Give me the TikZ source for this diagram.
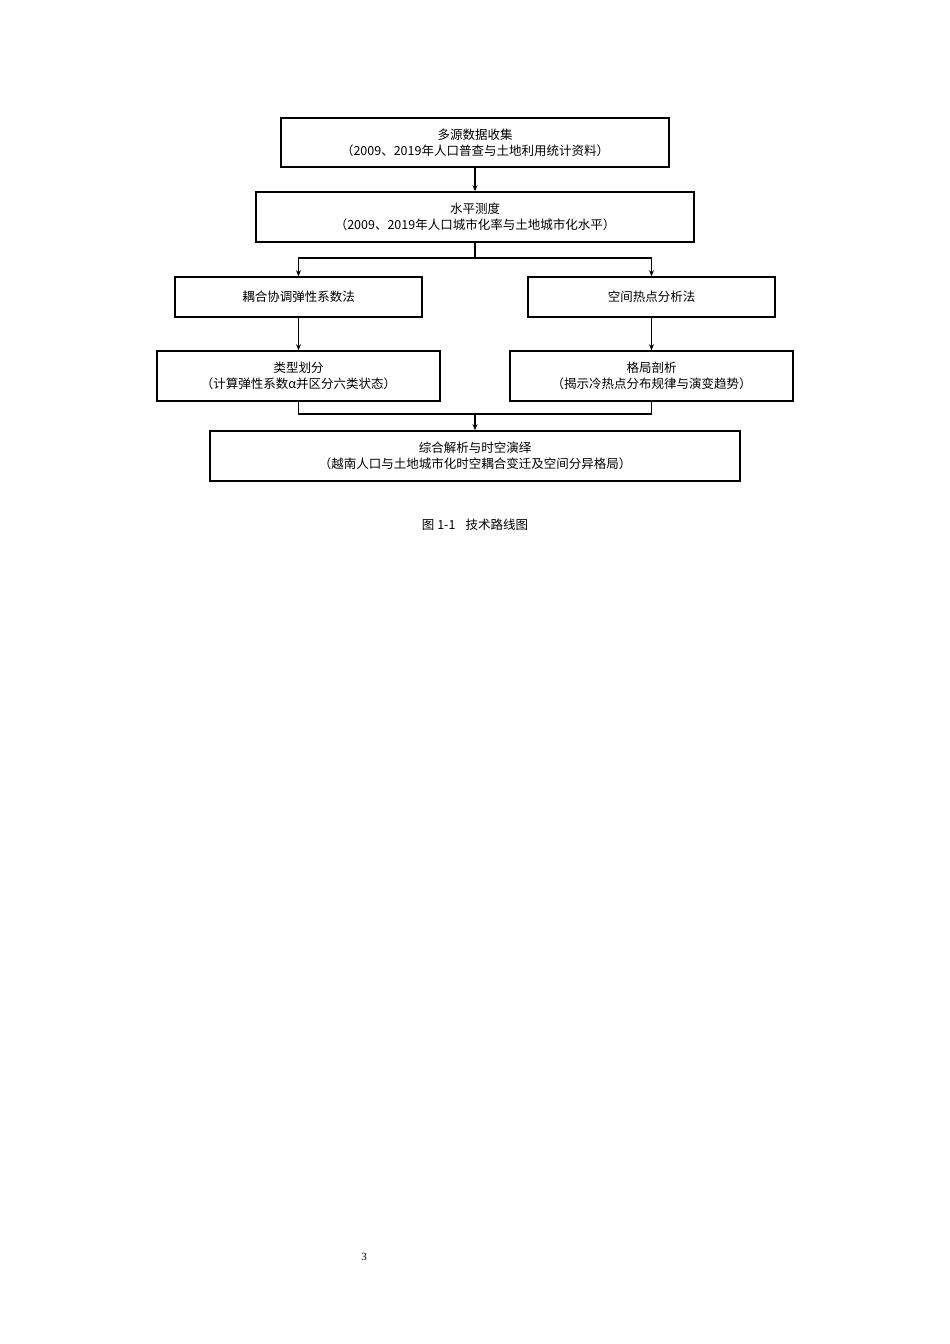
\documentclass[tikz,border=0pt]{standalone}
\usepackage{fontspec}
\setmainfont{Noto Sans CJK SC}
\newfontfamily\serifnum{Liberation Serif}
\usetikzlibrary{arrows.meta}
\begin{document}
\begin{tikzpicture}[x=1pt,y=-1pt,
  box/.style={draw,line width=1.6pt,inner sep=0pt,font=\fontsize{12.5}{16}\selectfont,align=center},
  conn/.style={line width=1.3pt},
  arr/.style={conn,-{Stealth[length=6pt,width=5pt]}}]
\useasboundingbox[fill=white] (0,0) rectangle (950,1344);
\node[box,minimum width=388pt,minimum height=49pt] (b1) at (475,142.5) {多源数据收集\\（2009、2019年人口普查与土地利用统计资料）};
\node[box,minimum width=438pt,minimum height=50pt] (b2) at (475,217) {水平测度\\（2009、2019年人口城市化率与土地城市化水平）};
\node[box,minimum width=247pt,minimum height=40pt] (b3) at (298.5,297) {耦合协调弹性系数法};
\node[box,minimum width=247pt,minimum height=40pt] (b4) at (651.5,297) {空间热点分析法};
\node[box,minimum width=283pt,minimum height=50pt] (b5) at (298.5,376) {类型划分\\（计算弹性系数α并区分六类状态）};
\node[box,minimum width=283pt,minimum height=50pt] (b6) at (651.5,376) {格局剖析\\（揭示冷热点分布规律与演变趋势）};
\node[box,minimum width=530pt,minimum height=50pt] (b7) at (475,456) {综合解析与时空演绎\\（越南人口与土地城市化时空耦合变迁及空间分异格局）};
\coordinate (s1) at (475,258);
\coordinate (s2) at (475,414);
\draw[arr] (b1) -- (b2);
\draw[conn] (b2.south) -- (s1);
\draw[arr] (s1) -| (b3.north);
\draw[arr] (s1) -| (b4.north);
\draw[arr] (b3) -- (b5);
\draw[arr] (b4) -- (b6);
\draw[conn] (b5.south) |- (s2) -| (b6.south);
\draw[arr] (s2) -- (b7.north);
\node[font=\fontsize{12.5}{15}\selectfont] (cap) at (475,525) {图 1-1\hspace{0.8em}技术路线图};
\node[font=\serifnum\fontsize{11}{13}\selectfont] (pg) at (364,1257) {3};
\end{tikzpicture}
\end{document}
